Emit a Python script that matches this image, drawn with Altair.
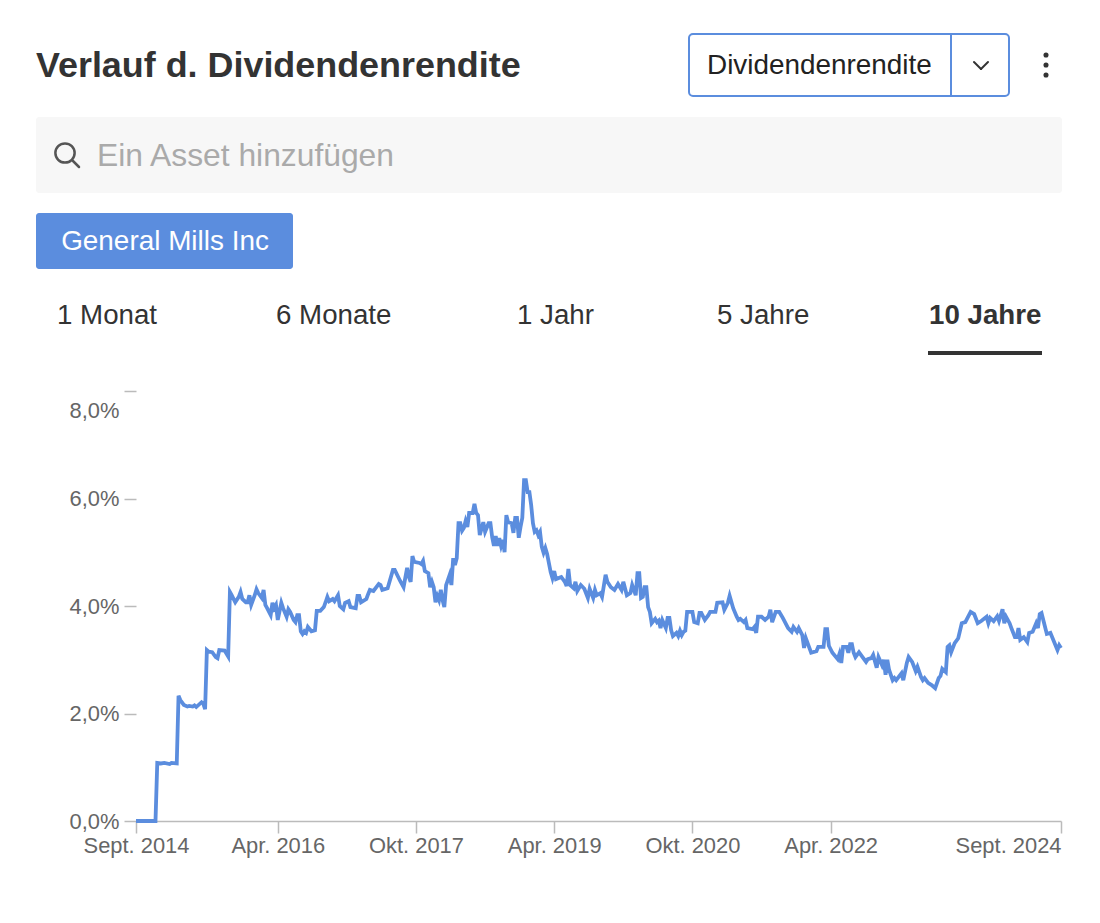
import json
import altair as alt
import pandas as pd

# Weekly dividend yield series (week index since Sept. 2014, yield in percent)
weeks = [0, 11, 12, 14, 16, 19, 20, 23, 24, 25, 27, 29, 30, 32, 33, 34, 37, 38, 39, 40, 41, 43, 45, 46, 47, 50, 52,
         53, 54, 56, 58, 59, 60, 62, 63, 64, 65, 67, 68, 69, 71, 72, 73, 74, 76, 77, 78, 79, 80, 82, 83, 85, 86, 87, 89,
         90, 91, 92, 93, 94, 95, 96, 97, 99, 101, 102, 104, 106, 107, 108, 109, 111, 112, 114, 115, 117, 118, 120, 121,
         124, 125, 126, 127, 130, 131, 132, 134, 137, 138, 139, 142, 145, 146, 149, 151, 153, 154, 155, 156, 157, 160,
         161, 162, 163, 165, 166, 167, 168, 169, 170, 171, 172, 173, 174, 175, 177, 178, 179, 180, 181, 182, 183, 184,
         185, 186, 187, 188, 190, 191, 192, 193, 194, 196, 197, 199, 200, 201, 202, 203, 204, 205, 206, 207, 208, 209,
         210, 212, 213, 214, 215, 216, 217, 218, 219, 220, 221, 222, 223, 224, 225, 226, 227, 228, 229, 230, 231, 232,
         234, 235, 236, 237, 240, 242, 243, 244, 245, 247, 248, 249, 251, 253, 255, 256, 258, 259, 260, 262, 263, 265,
         266, 268, 270, 272, 274, 275, 277, 279, 280, 282, 283, 284, 285, 286, 287, 288, 289, 290, 291, 293, 294, 295,
         296, 297, 299, 300, 301, 302, 303, 305, 306, 307, 308, 309, 310, 311, 314, 315, 317, 318, 319, 321, 323, 324,
         327, 328, 331, 332, 334, 335, 337, 339, 340, 341, 343, 344, 345, 348, 349, 350, 351, 353, 355, 357, 358, 359,
         361, 363, 365, 368, 370, 371, 373, 374, 376, 377, 378, 380, 381, 384, 385, 388, 389, 390, 391, 393, 396, 397,
         398, 399, 401, 402, 403, 404, 405, 406, 408, 410, 412, 413, 415, 416, 418, 419, 421, 422, 423, 424, 425, 427,
         428, 429, 432, 433, 435, 436, 438, 440, 441, 443, 444, 445, 447, 449, 451, 453, 454, 455, 457, 458, 459, 460,
         462, 464, 466, 468, 471, 473, 475, 477, 480, 481, 482, 484, 486, 487, 489, 490, 491, 493, 494, 496, 497, 498,
         499, 501, 503, 504, 506, 508, 509, 510, 511, 512, 514, 516, 520, 521, 522]
yields = [0, 0, 1.08, 1.07, 1.08, 1.06, 1.08, 1.07, 2.33, 2.25, 2.16, 2.13, 2.14, 2.13, 2.15, 2.12, 2.21, 2.18, 2.08,
          3.18, 3.15, 3.14, 3.05, 3.03, 3.18, 3.17, 3.06,
          4.26, 4.2, 4.07, 4.17, 4.26, 4.13, 4.07, 4.07, 4.2, 4.02, 4.2, 4.31, 4.24, 4.15, 4.3, 4.02, 3.96, 3.83, 4.06,
          3.96, 4.02, 3.74, 4.06, 3.96, 3.8, 3.94, 3.89, 3.74,
          3.7, 3.83, 3.83, 3.53, 3.48, 3.53, 3.5, 3.61, 3.53, 3.55, 3.91, 3.91, 3.98, 4.07, 4.17, 4.09, 4.13, 4.09, 4.2,
          4.0, 3.94, 4.06, 4.09, 3.98,
          3.96, 4.19, 4.19, 4.07, 4.13, 4.22, 4.3, 4.28, 4.41, 4.39, 4.3, 4.33, 4.67, 4.67, 4.47, 4.35, 4.71, 4.54, 4.45,
          4.93, 4.82, 4.8,
          4.78, 4.84, 4.65, 4.61, 4.35, 4.45, 4.35, 4.07, 4.19, 4.11, 4.3, 4.11, 3.98, 4.39, 4.58, 4.39, 4.89, 4.76, 4.89,
          5.54, 5.54, 5.4,
          5.45, 5.58, 5.47, 5.73, 5.73, 5.9, 5.73, 5.69, 5.32, 5.56, 5.38, 5.54, 5.54, 5.28, 5.12, 5.3, 5.12, 5.26, 5.12,
          5.23, 5.0, 5.69,
          5.56, 5.54, 5.36, 5.64, 5.64, 5.27, 5.47, 5.64, 6.34, 6.34, 6.12, 6.12, 5.88, 5.54, 5.38, 5.41, 5.32, 5.38, 5.1,
          4.99, 5.08, 4.97,
          4.63, 4.52, 4.65, 4.5, 4.54, 4.45, 4.37, 4.69, 4.39, 4.33, 4.45, 4.28, 4.39, 4.32, 4.15, 4.32, 4.15, 4.3, 4.2,
          4.24, 4.17, 4.58,
          4.45, 4.35, 4.3, 4.41, 4.3, 4.45, 4.2, 4.24, 4.39, 4.2, 4.61, 4.61, 4.15, 4.17, 4.35, 4.35, 3.98, 3.89, 3.68,
          3.76, 3.7, 3.73,
          3.59, 3.74, 3.59, 3.78, 3.78, 3.55, 3.44, 3.5, 3.44, 3.54, 3.46, 3.52, 3.54, 3.89, 3.89, 3.7, 3.68, 3.87, 3.87,
          3.74, 3.83, 3.89,
          3.89, 4.06, 4.07, 3.93, 4.06, 4.19, 3.96, 3.8, 3.74, 3.76, 3.7, 3.74, 3.59, 3.57, 3.61, 3.5, 3.8, 3.8, 3.74, 3.8,
          3.93, 3.7,
          3.89, 3.89, 3.78, 3.59, 3.52, 3.61, 3.52, 3.59, 3.46, 3.22, 3.4, 3.22, 3.13, 3.16, 3.24, 3.24, 3.57, 3.57, 3.26,
          3.13, 3.01, 3.11,
          2.94, 3.24, 3.24, 3.13, 3.29, 3.29, 3.13, 3.05, 3.14, 3.05, 2.96, 3.01, 3.03, 3.09, 2.85, 3.05, 2.9, 3.0, 2.72,
          3.0, 2.81, 2.62,
          2.66, 2.62, 2.75, 2.62, 2.94, 3.05, 2.96, 2.79, 2.87, 2.68, 2.62, 2.66, 2.57, 2.53, 2.47, 2.66, 2.7, 2.83, 2.77,
          3.24, 3.27, 3.14,
          3.31, 3.4, 3.68, 3.7, 3.89, 3.85, 3.68, 3.72, 3.8, 3.68, 3.78, 3.72, 3.81, 3.72, 3.94, 3.68, 3.8, 3.68, 3.59, 3.42,
          3.42, 3.59,
          3.37, 3.42, 3.33, 3.5, 3.52, 3.68, 3.59, 3.85, 3.87, 3.74, 3.48, 3.5, 3.18, 3.27, 3.22]

x_tick_weeks = [0, 80, 158, 236, 314, 392, 522]
x_tick_labels = ["Sept. 2014", "Apr. 2016", "Okt. 2017", "Apr. 2019", "Okt. 2020", "Apr. 2022", "Sept. 2024"]
y_ticks = [0, 2, 4, 6, 8]

title_text = "Verlauf d. Dividendenrendite"
metric_text = "Dividendenrendite"
search_text = "Ein Asset hinzufügen"
asset_text = "General Mills Inc"
tabs = ["1 Monat", "6 Monate", "1 Jahr", "5 Jahre", "10 Jahre"]

FONT = "Liberation Sans"
BLUE = "#5b8dde"
INK = "#333333"
TICK = "#bbbbbb"
AXIS_TEXT = "#666666"

assert len(weeks) == len(yields), (len(weeks), len(yields))
df = pd.DataFrame({"Woche": weeks, "Rendite": yields})

x_label_expr = f"{json.dumps(x_tick_labels)}[indexof({json.dumps(x_tick_weeks)}, datum.value)]"


def box(x0, x1, y0, y1, **kw):
    # page coordinates minus the 8px page margin
    return alt.Chart().mark_rect(**kw).encode(
        x=alt.value(x0 - 8), x2=alt.value(x1 - 8), y=alt.value(y0 - 8), y2=alt.value(y1 - 8))


def seg(x0, y0, x1, y1, color, width):
    return alt.Chart().mark_rule(color=color, strokeWidth=width, strokeCap="round").encode(
        x=alt.value(x0 - 8), x2=alt.value(x1 - 8), y=alt.value(y0 - 8), y2=alt.value(y1 - 8))


def label(s, x, y, size, color=INK, weight="normal", align="left"):
    return alt.Chart().mark_text(font=FONT, fontSize=size, color=color, fontWeight=weight,
                                 align=align, baseline="alphabetic").encode(
        x=alt.value(x - 8), y=alt.value(y - 8), text=alt.value(s))


def dot(x, y, size, **kw):
    return alt.Chart().mark_point(size=size, **kw).encode(x=alt.value(x - 8), y=alt.value(y - 8))


line = alt.Chart(df).mark_line(color=BLUE, strokeWidth=3.8, interpolate="linear", strokeJoin="miter").encode(
    x=alt.X("Woche:Q", title=None,
            scale=alt.Scale(domain=[0, 522], range=[128, 1053], nice=False, zero=False),
            axis=alt.Axis(values=x_tick_weeks, labelExpr=x_label_expr, grid=False, offset=-94,
                          tickSize=12, tickColor=TICK, tickWidth=1.5, domainColor=TICK, domainWidth=1.5,
                          labelFont=FONT, labelFontSize=21.9, labelColor=AXIS_TEXT, labelPadding=2,
                          labelOverlap=False, labelFlush=False,
                          labelAlign=alt.expr("datum.value == 522 ? 'right' : 'center'"))),
    y=alt.Y("Rendite:Q", title=None,
            scale=alt.Scale(domain=[0, 8], range=[813, 383], nice=False),
            axis=alt.Axis(values=y_ticks, labelExpr="replace(format(datum.value, '.1f'), '.', ',') + '%'",
                          grid=False, domain=False, offset=-128,
                          tickSize=12, tickColor=TICK, tickWidth=1.5,
                          labelFont=FONT, labelFontSize=21.9, labelColor=AXIS_TEXT, labelPadding=5,
                          labelOverlap=False,
                          labelOffset=alt.expr("datum.value == 8 ? 19 : 0"))),
)

layers = [
    label(title_text, 36, 77, 35.9, weight="bold"),
    box(689, 1009, 34, 96, fill="#ffffff", stroke=BLUE, strokeWidth=2, cornerRadius=4),
    seg(951, 34, 951, 96, BLUE, 2),
    label(metric_text, 707, 74, 27.9, color="#222222"),
    seg(974, 62, 981, 69, "#333333", 2),
    seg(981, 69, 988, 62, "#333333", 2),
    dot(1046, 55, 26, filled=True, color="#333333", opacity=1),
    dot(1046, 65, 26, filled=True, color="#333333", opacity=1),
    dot(1046, 75, 26, filled=True, color="#333333", opacity=1),
    box(36, 1062, 117, 193, fill="#f7f7f7", cornerRadius=3),
    dot(65, 153, 370, filled=False, color="#555555", strokeWidth=2.5, opacity=1),
    seg(73, 161, 79, 167, "#555555", 2.5),
    label(search_text, 97, 166, 31.8, color="#aaaaaa"),
    box(36, 293, 213, 269, fill=BLUE, cornerRadius=3),
    label(asset_text, 165, 250, 27.9, color="#ffffff", align="center"),
    label(tabs[0], 57, 324, 27.7),
    label(tabs[1], 276, 324, 27.7),
    label(tabs[2], 517, 324, 27.7),
    label(tabs[3], 717, 324, 27.7),
    label(tabs[4], 929, 324, 27.7, weight="bold"),
    box(928, 1042, 351, 355, fill=INK),
    line,
]

chart = alt.layer(*layers).properties(
    width=1084, height=907, padding=0,
    autosize=alt.AutoSizeParams(type="none"),
).configure_view(stroke=None)

chart.save("out.html", embed_options={"renderer": "svg", "actions": False})
